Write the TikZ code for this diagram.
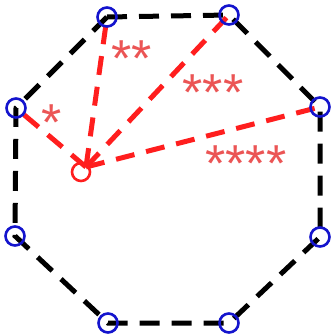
\documentclass[tikz,border=0pt]{standalone}
\usepackage{fontspec}
\setmainfont{Liberation Sans}
\definecolor{vblue}{RGB}{20,20,205}
\definecolor{lred}{RGB}{255,30,30}
\definecolor{tred}{RGB}{235,85,85}
\begin{document}
\begin{tikzpicture}[x=1pt,y=-1pt,
  vert/.style={circle,draw=vblue,line width=2.6pt,minimum size=19pt,inner sep=0pt},
  edge/.style={draw=black,line width=5pt,dash pattern=on 20pt off 12pt},
  ray/.style={draw=lred,line width=5pt,dash pattern=on 19pt off 12pt},
  lab/.style={text=tred,font=\fontsize{52}{52}\selectfont,inner sep=0pt}]
\useasboundingbox (0,0) rectangle (331,335);
\coordinate (v1) at (107,17);
\coordinate (v2) at (229,15);
\coordinate (v3) at (320,107);
\coordinate (v4) at (320,237);
\coordinate (v5) at (229,323);
\coordinate (v6) at (108,323);
\coordinate (v7) at (15,236);
\coordinate (v8) at (16,108);
\coordinate (c) at (86,167);
\draw[edge] (v1) -- (v2) -- (v3) -- (v4) -- (v5) -- (v6) -- (v7) -- (v8) -- cycle;
\foreach \v in {v8,v1,v2,v3}{\draw[ray] (c) -- (\v);}
\node[circle,draw=lred,line width=2.6pt,minimum size=18pt,inner sep=0pt] (cc) at (81,172) {};
\foreach \v in {1,...,8}{\node[vert] (n\v) at (v\v) {};}
\node[lab] (l1) at (52,123) {*};
\node[lab] (l2) at (132,59) {**};
\node[lab] (l3) at (213,93) {***};
\node[lab] (l4) at (246,164) {****};
\end{tikzpicture}
\end{document}
